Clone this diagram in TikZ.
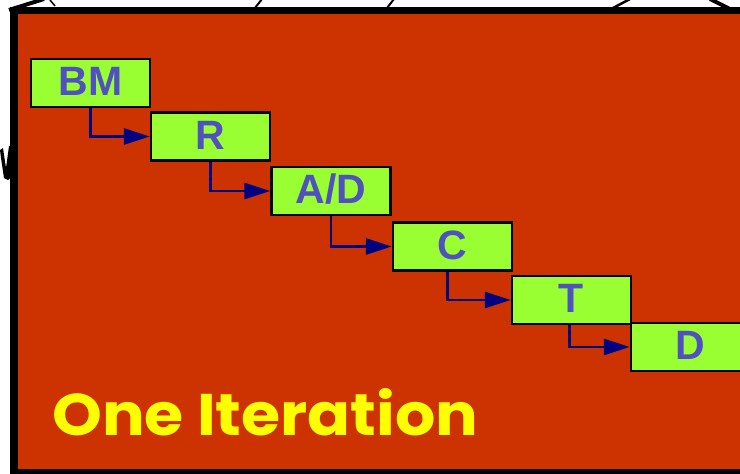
\documentclass[tikz,border=0pt]{standalone}
\usepackage{fontspec}
\setmainfont{Liberation Sans}
\newfontfamily\comicfont{Poppins}
\usetikzlibrary{arrows.meta}
\definecolor{bgred}{HTML}{CC3300}
\definecolor{boxgreen}{HTML}{99FF33}
\definecolor{lblblue}{HTML}{5050C0}
\definecolor{arrnavy}{HTML}{000080}
\definecolor{ityellow}{HTML}{FFFF00}
\tikzset{
  stepbox/.style={draw=black, line width=2.5pt, fill=boxgreen, minimum width=119pt, minimum height=48pt,
    inner sep=0pt, text=lblblue, font=\bfseries\fontsize{41}{41}\selectfont, text height=29.5pt, text depth=4pt},
  flowarrow/.style={draw=arrnavy, line width=2.8pt, -{Triangle[length=26pt,width=16pt]}},
  frag/.style={draw=black, line width=3pt}
}
\begin{document}
\begin{tikzpicture}[x=1pt,y=-1pt]
\useasboundingbox (0,0) rectangle (740,474);
\clip (0,0) rectangle (740,474);
% fragments of surrounding drawing
\draw[frag, line width=4pt] (9,10) -- (44,-1);
\draw[frag, line width=1.5pt] (50,0) -- (55,6);
\draw[frag, line width=2pt] (255,8) -- (262,-1);
\draw[frag, line width=2pt] (387,8) -- (394,-1);
\draw[frag, line width=2.5pt] (613,8) -- (630,-1);
\draw[frag, line width=4pt] (710,-1) -- (740,14);
\fill[black] (0,150) -- (3,148) -- (6,168) -- (9,146) -- (12,145) -- (12,176) -- (8,180) -- (4,178) -- (1,158) -- cycle;
% main panel
\draw[line width=7.5pt, fill=bgred] (14,10.5) rectangle (770,472.5);
% boxes
\node[stepbox] (bm) at (90.5,83) {BM};
\node[stepbox] (r) at (210.5,136.5) {R};
\node[stepbox] (ad) at (331,191) {A/D};
\node[stepbox] (c) at (452.5,246.5) {C};
\node[stepbox] (t) at (571.5,300) {T};
\node[stepbox] (d) at (690.5,347) {D};
% arrows
\draw[flowarrow] (bm.south) |- (r.west);
\draw[flowarrow] (r.south) |- (ad.west);
\draw[flowarrow] (ad.south) |- (c.west);
\draw[flowarrow] ([xshift=-5pt]c.south) |- (t.west);
\draw[flowarrow] ([xshift=-2pt]t.south) |- (d.west);
% label
\node[anchor=base west, inner sep=0pt, text=ityellow] (iter) at (52,435)
  {\resizebox{426pt}{47pt}{\comicfont\bfseries One Iteration}};
\end{tikzpicture}
\end{document}
